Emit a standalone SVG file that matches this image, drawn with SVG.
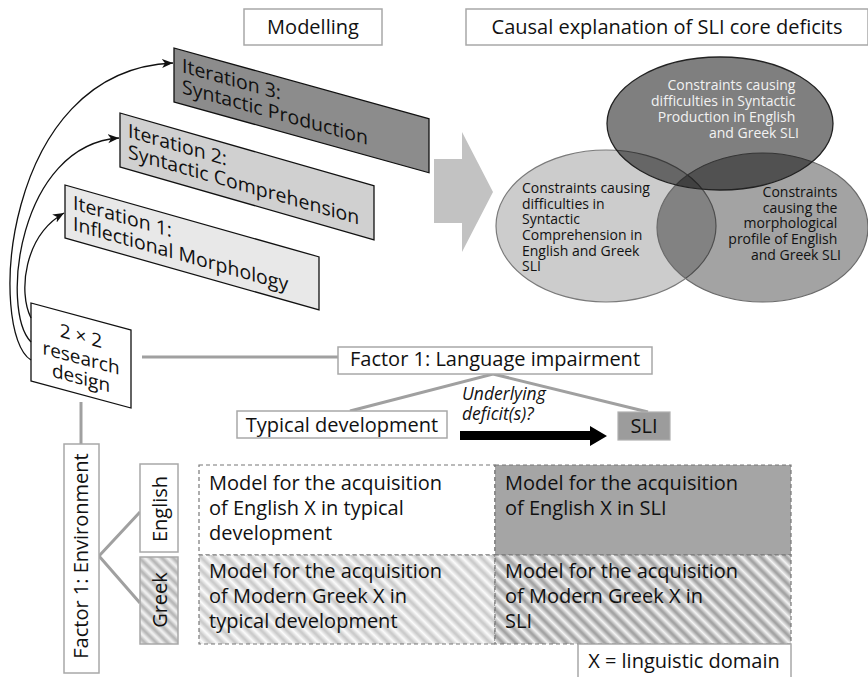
<svg xmlns="http://www.w3.org/2000/svg" width="868" height="677" viewBox="0 0 868 677">
  <style>
    .t { font-family: "Open Sans", "Noto Sans", "DejaVu Sans", sans-serif; font-size: 20px; fill: #111; }
    .s { font-size: 14px; }
    .it { font-style: italic; font-size: 17.5px; }
    .box { fill: #fff; stroke: #a8a8a8; stroke-width: 1.5; }
    .para { stroke: #111; stroke-width: 1.3; }
    .link { stroke: #a0a0a0; stroke-width: 3; fill: none; }
    .curve { stroke: #111; stroke-width: 1.3; fill: none; marker-end: url(#head); }
    .cell { stroke: #777; stroke-width: 1.2; stroke-dasharray: 4 3; }
  </style>
  <defs>
    <marker id="head" markerUnits="userSpaceOnUse" markerWidth="12" markerHeight="10" refX="11" refY="4.5" orient="auto">
      <path d="M0,0 L11,4.5 L0,9 L3,4.5 z" fill="#111"/>
    </marker>
    <linearGradient id="gLight" x1="0" y1="0" x2="1" y2="0">
      <stop offset="0" stop-color="#c6c6c6"/>
      <stop offset="0.5" stop-color="#fbfbfb"/>
      <stop offset="1" stop-color="#c6c6c6"/>
    </linearGradient>
    <linearGradient id="gMid" x1="0" y1="0" x2="1" y2="0">
      <stop offset="0" stop-color="#b0b0b0"/>
      <stop offset="0.5" stop-color="#f6f6f6"/>
      <stop offset="1" stop-color="#b0b0b0"/>
    </linearGradient>
    <linearGradient id="gDark" x1="0" y1="0" x2="1" y2="0">
      <stop offset="0" stop-color="#9a9a9a"/>
      <stop offset="0.5" stop-color="#f4f4f4"/>
      <stop offset="1" stop-color="#9a9a9a"/>
    </linearGradient>
    <pattern id="hatchLight" patternUnits="userSpaceOnUse" width="9" height="9" patternTransform="rotate(-45)">
      <rect width="9" height="9" fill="url(#gLight)"/>
    </pattern>
    <pattern id="hatchMid" patternUnits="userSpaceOnUse" width="8" height="8" patternTransform="rotate(-45)">
      <rect width="8" height="8" fill="url(#gMid)"/>
    </pattern>
    <pattern id="hatchDark" patternUnits="userSpaceOnUse" width="9" height="9" patternTransform="rotate(-45)">
      <rect width="9" height="9" fill="url(#gDark)"/>
    </pattern>
  </defs>

  <rect width="868" height="677" fill="#fff"/>

  <!-- headings -->
  <g id="modelling">
    <rect class="box" x="244" y="9" width="138" height="36"/>
    <text class="t" x="313" y="34" text-anchor="middle">Modelling</text>
  </g>
  <g id="causal">
    <rect class="box" x="466" y="9" width="402" height="36"/>
    <text class="t" x="667" y="34" text-anchor="middle">Causal explanation of SLI core deficits</text>
  </g>

  <!-- iterations (skewed panels) -->
  <g id="iteration3" transform="translate(174,48) skewY(15.5)">
    <rect class="para" x="0" y="0" width="255" height="54" fill="#8c8c8c"/>
    <text class="t" x="8" y="22" style="font-size:19.5px">Iteration 3:</text>
    <text class="t" x="8" y="43" style="font-size:19.5px">Syntactic Production</text>
  </g>
  <g id="iteration2" transform="translate(120,113) skewY(16)">
    <rect class="para" x="0" y="0" width="254" height="54" fill="#d0d0d0"/>
    <text class="t" x="8" y="22" style="font-size:19.5px">Iteration 2:</text>
    <text class="t" x="8" y="43" style="font-size:19.5px">Syntactic Comprehension</text>
  </g>
  <g id="iteration1" transform="translate(65,185) skewY(15.8)">
    <rect class="para" x="0" y="0" width="254" height="53" fill="#e8e8e8"/>
    <text class="t" x="8" y="22" style="font-size:19.5px">Iteration 1:</text>
    <text class="t" x="8" y="43" style="font-size:19.5px">Inflectional Morphology</text>
  </g>

  <!-- research design -->
  <g id="research-design" transform="translate(31,303) skewY(15.1)">
    <rect class="para" x="0" y="0" width="100" height="78" fill="#fff"/>
    <text class="t" x="50" y="26" text-anchor="middle" style="font-size:19px">2 × 2</text>
    <text class="t" x="50" y="48" text-anchor="middle" style="font-size:19px">research</text>
    <text class="t" x="50" y="68" text-anchor="middle" style="font-size:19px">design</text>
  </g>

  <!-- big arrow -->
  <g id="big-arrow">
    <polygon points="434,159 462,159 462,132 493,192 462,252 462,223 434,223" fill="#c2c2c2"/>
  </g>

  <!-- Venn diagram -->
  <g id="venn">
    <ellipse cx="606" cy="226" rx="110" ry="76" fill="#000" fill-opacity="0.2" stroke="#7a7a7a" stroke-width="1.2"/>
    <ellipse cx="762.5" cy="227.5" rx="105.5" ry="74.5" fill="#000" fill-opacity="0.36" stroke="#6a6a6a" stroke-width="1.2"/>
    <ellipse cx="720" cy="123.5" rx="113" ry="66.5" fill="#000" fill-opacity="0.5" stroke="#222" stroke-width="1.3"/>
    <text class="t s" x="799" text-anchor="end" style="fill:#f2f2f2">
      <tspan x="799" y="90">Constraints causing</tspan>
      <tspan x="799" y="106">difficulties in Syntactic</tspan>
      <tspan x="799" y="122">Production in English</tspan>
      <tspan x="799" y="137.5">and Greek SLI</tspan>
    </text>
    <text class="t s" x="522">
      <tspan x="522" y="193">Constraints causing</tspan>
      <tspan x="522" y="208.5">difficulties in</tspan>
      <tspan x="522" y="224">Syntactic</tspan>
      <tspan x="522" y="240">Comprehension in</tspan>
      <tspan x="522" y="255.5">English and Greek</tspan>
      <tspan x="522" y="271">SLI</tspan>
    </text>
    <text class="t s" x="841" text-anchor="end">
      <tspan x="841" y="197">Constraints</tspan>
      <tspan x="841" y="212.5">causing the</tspan>
      <tspan x="841" y="228">morphological</tspan>
      <tspan x="841" y="244">profile of English</tspan>
      <tspan x="841" y="260">and Greek SLI</tspan>
    </text>
  </g>

  <!-- connectors -->
  <g id="connectors">
    <path class="curve" d="M31,360 C-12,335 0,70 173,63"/>
    <path class="curve" d="M31,342 C0,310 18,145 119,138"/>
    <path class="curve" d="M31,318 C18,292 24,236 64,213"/>
    <line class="link" x1="142" y1="357" x2="338" y2="357"/>
    <line class="link" x1="81" y1="402" x2="81" y2="444"/>
    <polyline class="link" points="350,411 493,374 648,412" stroke-width="2.5"/>
    <polyline class="link" points="140,512 99,556 140,603" stroke-width="2.5"/>
    <polygon points="460,431 590,431 590,426 607,436 590,446 590,440 460,440" fill="#000"/>
  </g>

  <!-- factor 1: language impairment -->
  <g id="factor-impairment">
    <rect class="box" x="338" y="347" width="314" height="27"/>
    <text class="t" x="495" y="366" text-anchor="middle">Factor 1: Language impairment</text>
  </g>
  <g id="typical">
    <rect class="box" x="237" y="411" width="210" height="27"/>
    <text class="t" x="342" y="432" text-anchor="middle">Typical development</text>
  </g>
  <g id="sli">
    <rect x="618" y="412" width="52" height="28" fill="#9c9c9c" stroke="#b0b0b0" stroke-width="1.2"/>
    <text class="t" x="644" y="433" text-anchor="middle">SLI</text>
  </g>
  <g id="deficit-label">
    <text class="t it" x="462" y="400">Underlying</text>
    <text class="t it" x="462" y="420">deficit(s)?</text>
  </g>

  <!-- factor 1: environment -->
  <g id="factor-environment">
    <rect class="box" x="64" y="444" width="35" height="229"/>
    <text class="t" transform="translate(88,556) rotate(-90)" text-anchor="middle">Factor 1: Environment</text>
  </g>
  <g id="english">
    <rect class="box" x="140" y="464" width="38" height="88"/>
    <text class="t" transform="translate(167,509) rotate(-90)" text-anchor="middle">English</text>
  </g>
  <g id="greek">
    <rect x="140" y="557" width="38" height="87" fill="url(#hatchMid)" stroke="#a8a8a8" stroke-width="1.5"/>
    <text class="t" transform="translate(167,600) rotate(-90)" text-anchor="middle">Greek</text>
  </g>

  <!-- 2 x 2 model table -->
  <g id="cell-en-td">
    <rect class="cell" x="199" y="465" width="296" height="90" fill="#fff"/>
    <text class="t" x="209" y="490">Model for the acquisition</text>
    <text class="t" x="209" y="515">of English X in typical</text>
    <text class="t" x="209" y="540">development</text>
  </g>
  <g id="cell-en-sli">
    <rect class="cell" x="495" y="465" width="296" height="90" fill="#a5a5a5"/>
    <text class="t" x="505" y="490">Model for the acquisition</text>
    <text class="t" x="505" y="515">of English X in SLI</text>
  </g>
  <g id="cell-gr-td">
    <rect class="cell" x="199" y="555" width="296" height="89" fill="url(#hatchLight)"/>
    <text class="t" x="209" y="578">Model for the acquisition</text>
    <text class="t" x="209" y="603">of Modern Greek X in</text>
    <text class="t" x="209" y="628">typical development</text>
  </g>
  <g id="cell-gr-sli">
    <rect class="cell" x="495" y="555" width="296" height="89" fill="url(#hatchDark)"/>
    <text class="t" x="505" y="578">Model for the acquisition</text>
    <text class="t" x="505" y="603">of Modern Greek X in</text>
    <text class="t" x="505" y="628">SLI</text>
  </g>
  <g id="legend">
    <rect class="box" x="578" y="644" width="213" height="40"/>
    <text class="t" x="684" y="668" text-anchor="middle">X = linguistic domain</text>
  </g>
</svg>
